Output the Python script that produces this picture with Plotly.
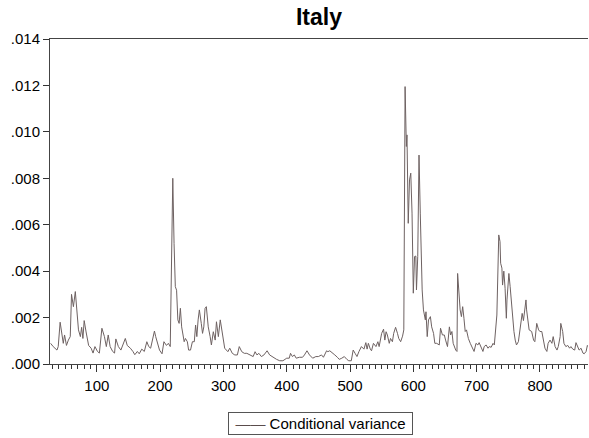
import plotly.graph_objects as go

# Observation index
obs = [27, 31, 37, 39, 42, 45, 47, 49, 52, 55, 58, 60, 63, 66, 68, 71, 74, 76, 78, 80,
       83, 87, 91, 94, 97, 101, 104, 108, 112, 115, 118, 121, 125, 128, 130, 134, 138, 141, 145, 148,
       153, 157, 160, 164, 167, 171, 175, 179, 182, 185, 188, 191, 193, 196, 199, 203, 206, 210, 213, 216,
       220, 222, 224, 226, 228, 230, 232, 234, 236, 238, 240, 243, 245, 248, 251, 254, 256, 258, 260, 262,
       265, 267, 269, 271, 273, 276, 279, 281, 284, 287, 289, 292, 295, 297, 300, 302, 307, 310, 314, 318,
       322, 325, 329, 333, 337, 342, 347, 350, 353, 356, 360, 364, 369, 373, 378, 384, 389, 394, 400, 404,
       406, 409, 412, 415, 420, 425, 428, 432, 436, 441, 446, 450, 455, 458, 463, 465, 468, 472, 476, 480,
       483, 487, 491, 495, 498, 502, 505, 508, 511, 514, 518, 522, 525, 527, 529, 532, 534, 537, 541, 544,
       546, 550, 553, 555, 557, 559, 562, 564, 567, 569, 572, 575, 577, 580, 583, 585, 587, 589, 590, 592,
       594, 596, 598, 600, 602, 604, 605, 607, 609, 611, 612, 614, 616, 619, 620, 622, 624, 627, 629, 632,
       634, 637, 641, 643, 646, 649, 651, 654, 657, 659, 661, 663, 667, 669, 670, 672, 674, 676, 678, 680,
       682, 684, 687, 690, 693, 696, 699, 702, 704, 707, 710, 712, 715, 718, 720, 723, 726, 728, 730, 732,
       735, 737, 738, 740, 741, 743, 745, 747, 748, 750, 751, 753, 755, 757, 759, 761, 763, 766, 768, 770,
       772, 774, 776, 778, 779, 781, 783, 787, 790, 792, 795, 798, 800, 803, 806, 808, 811, 813, 816, 819,
       821, 824, 827, 829, 832, 833, 836, 838, 841, 844, 847, 849, 852, 855, 857, 860, 862, 865, 868, 870,
       873, 875, 876]

# Conditional variance
cond_var = [.00089, .00075, .0006, .00075, .0018, .00132, .00089, .00125, .0008, .00103, .00118, .0030, .00247, .00312, .0024, .00147, .00118, .00158, .0011, .00187,
            .00138, .0008, .00068, .00047, .00075, .00054, .00047, .00154, .00118, .00075, .00125, .00075, .00054, .00047, .00108, .00075, .0006, .0008, .0011, .0008,
            .00068, .00054, .0004, .00054, .00044, .00064, .00054, .00096, .00075, .00068, .00103, .00142, .00118, .00089, .0006, .00044, .00096, .0008, .00089, .00075,
            .0080, .0052, .00333, .00318, .0019, .00175, .0024, .0016, .00125, .00096, .0011, .00096, .0006, .0006, .00096, .00096, .00168, .00118, .0019, .00233,
            .00175, .00132, .0016, .0024, .00247, .0016, .00118, .00082, .00139, .00103, .00182, .00118, .0019, .00154, .00103, .00068, .00053, .00068, .00046, .00039,
            .00039, .00075, .00053, .00046, .00046, .00039, .00032, .00053, .00039, .00046, .00032, .00039, .00057, .00039, .00029, .0002, .00014, .00014, .00025, .00025,
            .00046, .00032, .00039, .00025, .00029, .00029, .00039, .00057, .00039, .00025, .00032, .00032, .00039, .00029, .00057, .00053, .00057, .00046, .00039, .00029,
            .0002, .00025, .00032, .0002, .00014, .00014, .0006, .00046, .00032, .00053, .00075, .00064, .00092, .00064, .00089, .00064, .00057, .00089, .00075, .00096,
            .00075, .00132, .0015, .00103, .00139, .00125, .00089, .0011, .00096, .00132, .00158, .00132, .0011, .00096, .0012, .00147, .01195, .00937, .00987, .00606,
            .00793, .00822, .0065, .00305, .00463, .00465, .00319, .00463, .0090, .0065, .00477, .00319, .00233, .0019, .00225, .00118, .0019, .00204, .0016, .00132,
            .00089, .00089, .00082, .00154, .00125, .00125, .00103, .00075, .0016, .00125, .0014, .00089, .0006, .00054, .0039, .00305, .00233, .00204, .00247, .00197,
            .0014, .00147, .0011, .00089, .00068, .00054, .00089, .00082, .00092, .00068, .00054, .00075, .00082, .00068, .00075, .00072, .00089, .00082, .00139, .00211,
            .00556, .00527, .00434, .00413, .0034, .0040, .00326, .00197, .00276, .00348, .0039, .00333, .00262, .00175, .0014, .00103, .00082, .00096, .0014, .00182,
            .00218, .00187, .00247, .00276, .00233, .00175, .00147, .0014, .00103, .00096, .00175, .00147, .0014, .0014, .00089, .00068, .00054, .00089, .00103, .00089,
            .00118, .00075, .0006, .00075, .00118, .00175, .0014, .00089, .00075, .0008, .00068, .00075, .00064, .0006, .00092, .00075, .0006, .00068, .00047, .00044,
            .00054, .0008, .00075]

y_ticks = [0, .002, .004, .006, .008, .010, .012, .014]
y_tick_labels = [".000", ".002", ".004", ".006", ".008", ".010", ".012", ".014"]
series_name = "Conditional variance"

FONT = "Liberation Sans, Arial, sans-serif"
LINE_COLOR = "#6e6262"

fig = go.Figure()
fig.add_trace(go.Scatter(
    x=obs, y=cond_var, mode="lines", name=series_name,
    line=dict(color=LINE_COLOR, width=1), showlegend=False,
))

# Boxed legend drawn as a text annotation (dash glyphs as the line sample)
fig.add_annotation(
    text=f"<span style='color:#5a4c4c'>——</span> {series_name}",
    xref="paper", yref="paper", x=0.503, y=-0.183, xanchor="center", yanchor="middle",
    showarrow=False, width=181, height=19, align="center", valign="middle",
    bordercolor="#555555", borderwidth=1, borderpad=1, bgcolor="white",
    font=dict(family=FONT, size=15, color="#000000"),
)

fig.update_layout(
    width=589, height=438,
    margin=dict(l=50, r=1, t=39, b=74, autoexpand=False),
    paper_bgcolor="white", plot_bgcolor="white",
    font=dict(family=FONT, size=15, color="#000000"),
    title=dict(text="<b>Italy</b>", x=0.5, xref="paper", y=1 - 17 / 438, yref="container",
               xanchor="center", yanchor="middle", font=dict(family=FONT, size=23, color="#000000")),
    showlegend=False,
)

fig.update_xaxes(
    range=[26, 876], tickmode="linear", tick0=0, dtick=100,
    showgrid=False, zeroline=False,
    showline=True, linecolor="#444444", linewidth=1, mirror=True,
    ticks="outside", ticklen=7, tickcolor="#333333", tickwidth=1,
    ticklabelstandoff=1,
    tickfont=dict(family=FONT, size=15, color="#000000"),
    minor=dict(tickmode="linear", tick0=0, dtick=10, ticks="outside", ticklen=4,
               tickcolor="#333333", tickwidth=1, showgrid=False),
)
fig.update_yaxes(
    range=[0, 0.014], tickvals=y_ticks, ticktext=y_tick_labels,
    showgrid=False, zeroline=False,
    showline=True, linecolor="#444444", linewidth=1, mirror=False,
    ticks="outside", ticklen=6, tickcolor="#333333", tickwidth=1,
    tickfont=dict(family=FONT, size=15, color="#000000"),
)

fig.write_html("out.html")
